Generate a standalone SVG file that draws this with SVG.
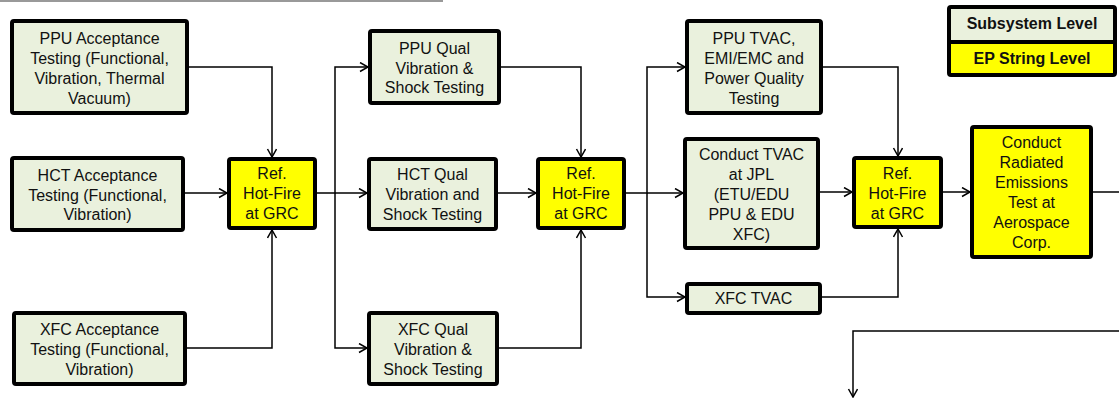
<svg xmlns="http://www.w3.org/2000/svg" width="1119" height="398" viewBox="0 0 1119 398">
<defs>
<style>
.box{stroke:#000;stroke-width:4;}
.sub{fill:#EAF1DD;}
.ep{fill:#FFFF00;}
.t{font-family:"Liberation Sans",Arial,sans-serif;font-size:16px;fill:#111;text-anchor:middle;}
.lg{font-family:"Liberation Sans",Arial,sans-serif;font-size:16px;font-weight:bold;fill:#111;text-anchor:middle;}
.c{fill:none;stroke:#000;stroke-width:1.5;}
.a{marker-end:url(#arr);}
</style>
<marker id="arr" markerUnits="userSpaceOnUse" markerWidth="12" markerHeight="12" refX="9" refY="5" orient="auto">
<path d="M1,0.5 L9,5 L1,9.5" fill="none" stroke="#000" stroke-width="1.5"/>
</marker>
</defs>
<rect width="1119" height="398" fill="#fff"/>
<line x1="0" y1="1" x2="443" y2="1" stroke="#999" stroke-width="2"/>

<g id="connectors">
<path class="c a" d="M189,67 H272 V157"/>
<path class="c a" d="M185,193 H227"/>
<path class="c a" d="M187,348 H272 V230"/>
<path class="c a" d="M317,193 H335 V67 H368"/>
<path class="c a" d="M335,193 H367"/>
<path class="c a" d="M335,193 V348 H367"/>
<path class="c a" d="M501,67 H581 V157"/>
<path class="c a" d="M498,193 H536"/>
<path class="c a" d="M499,348 H581 V230"/>
<path class="c a" d="M626,193 H647 V67 H685"/>
<path class="c a" d="M647,193 H683"/>
<path class="c a" d="M647,193 V297 H685"/>
<path class="c a" d="M823,67 H898 V156"/>
<path class="c a" d="M820,192 H852"/>
<path class="c a" d="M822,297 H898 V229"/>
<path class="c a" d="M943,192 H970"/>
<path class="c" d="M1093,192 H1119"/>
<path class="c a" d="M1119,331 H853 V397"/>
</g>

<g id="ppu-acceptance">
<rect class="box sub" x="12" y="21" width="175" height="92" rx="2"/>
<text class="t" x="99.5" y="44">PPU Acceptance</text>
<text class="t" x="99.5" y="64">Testing (Functional,</text>
<text class="t" x="99.5" y="84">Vibration, Thermal</text>
<text class="t" x="99.5" y="104">Vacuum)</text>
</g>
<g id="hct-acceptance">
<rect class="box sub" x="12" y="158" width="171" height="72" rx="2"/>
<text class="t" x="97.5" y="181">HCT Acceptance</text>
<text class="t" x="97.5" y="201">Testing (Functional,</text>
<text class="t" x="97.5" y="220">Vibration)</text>
</g>
<g id="xfc-acceptance">
<rect class="box sub" x="14" y="313" width="171" height="71" rx="2"/>
<text class="t" x="99.5" y="335">XFC Acceptance</text>
<text class="t" x="99.5" y="355">Testing (Functional,</text>
<text class="t" x="99.5" y="375">Vibration)</text>
</g>
<g id="ref-hotfire-1">
<rect class="box ep" x="229" y="159" width="86" height="69" rx="2"/>
<text class="t" x="272" y="179">Ref.</text>
<text class="t" x="272" y="199">Hot-Fire</text>
<text class="t" x="272" y="219">at GRC</text>
</g>
<g id="ppu-qual">
<rect class="box sub" x="370" y="31" width="129" height="72" rx="2"/>
<text class="t" x="434.5" y="54">PPU Qual</text>
<text class="t" x="434.5" y="74">Vibration &amp;</text>
<text class="t" x="434.5" y="93">Shock Testing</text>
</g>
<g id="hct-qual">
<rect class="box sub" x="369" y="159" width="127" height="70" rx="2"/>
<text class="t" x="432.5" y="180">HCT Qual</text>
<text class="t" x="432.5" y="200">Vibration and</text>
<text class="t" x="432.5" y="220">Shock Testing</text>
</g>
<g id="xfc-qual">
<rect class="box sub" x="369" y="313" width="128" height="71" rx="2"/>
<text class="t" x="433" y="335">XFC Qual</text>
<text class="t" x="433" y="355">Vibration &amp;</text>
<text class="t" x="433" y="375">Shock Testing</text>
</g>
<g id="ref-hotfire-2">
<rect class="box ep" x="538" y="159" width="86" height="69" rx="2"/>
<text class="t" x="581" y="179">Ref.</text>
<text class="t" x="581" y="199">Hot-Fire</text>
<text class="t" x="581" y="219">at GRC</text>
</g>
<g id="ppu-tvac">
<rect class="box sub" x="687" y="21" width="134" height="92" rx="2"/>
<text class="t" x="754" y="44">PPU TVAC,</text>
<text class="t" x="754" y="64">EMI/EMC and</text>
<text class="t" x="754" y="84">Power Quality</text>
<text class="t" x="754" y="104">Testing</text>
</g>
<g id="conduct-tvac-jpl">
<rect class="box sub" x="685" y="139" width="133" height="109" rx="2"/>
<text class="t" x="751.5" y="160">Conduct TVAC</text>
<text class="t" x="751.5" y="180">at JPL</text>
<text class="t" x="751.5" y="200">(ETU/EDU</text>
<text class="t" x="751.5" y="220">PPU &amp; EDU</text>
<text class="t" x="751.5" y="240">XFC)</text>
</g>
<g id="xfc-tvac">
<rect class="box sub" x="687" y="284" width="133" height="29" rx="2"/>
<text class="t" x="753.5" y="304">XFC TVAC</text>
</g>
<g id="ref-hotfire-3">
<rect class="box ep" x="854" y="158" width="87" height="69" rx="2"/>
<text class="t" x="897.5" y="179">Ref.</text>
<text class="t" x="897.5" y="199">Hot-Fire</text>
<text class="t" x="897.5" y="219">at GRC</text>
</g>
<g id="radiated-emissions">
<rect class="box ep" x="972" y="127" width="119" height="130" rx="2"/>
<text class="t" x="1031.5" y="148">Conduct</text>
<text class="t" x="1031.5" y="168">Radiated</text>
<text class="t" x="1031.5" y="188">Emissions</text>
<text class="t" x="1031.5" y="208">Test at</text>
<text class="t" x="1031.5" y="228">Aerospace</text>
<text class="t" x="1031.5" y="248">Corp.</text>
</g>
<g id="legend">
<rect class="sub" x="949" y="7" width="166" height="35"/>
<rect class="ep" x="949" y="42" width="166" height="33"/>
<rect x="949" y="7" width="166" height="68" rx="2" fill="none" stroke="#000" stroke-width="4"/>
<line x1="949" y1="42" x2="1115" y2="42" stroke="#000" stroke-width="4"/>
<text class="lg" x="1032" y="29">Subsystem Level</text>
<text class="lg" x="1032" y="64">EP String Level</text>
</g>
</svg>
